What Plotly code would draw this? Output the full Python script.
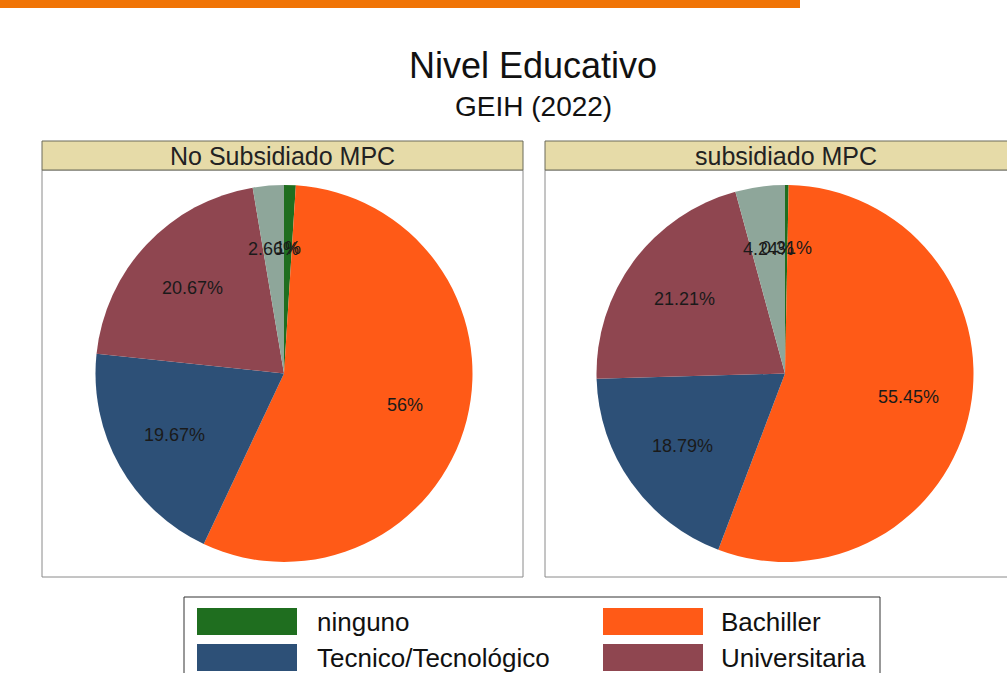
import math
import plotly.graph_objects as go

# ---- data ----
categories = ["ninguno", "Bachiller", "Tecnico/Tecnológico", "Universitaria", "Posgrado"]
no_subsidiado = [1.0, 56.0, 19.67, 20.67, 2.66]
subsidiado = [0.31, 55.45, 18.79, 21.21, 4.24]
panel_titles = ["No Subsidiado MPC", "subsidiado MPC"]
colors = ["#1f6e1f", "#ff5a17", "#2d5077", "#8f4650", "#8ea69a"]

W, H = 1007, 673
FONT = "Liberation Sans, Arial, sans-serif"


def px(x):
    return x / W


def py(y):
    return 1 - y / H


fig = go.Figure()
shapes = []
annotations = []

# top orange bar
shapes.append(dict(type="rect", xref="paper", yref="paper", x0=px(0), x1=px(800), y0=py(8), y1=py(0),
                   fillcolor="#f07406", line=dict(width=0), layer="below"))

panels = [
    dict(values=no_subsidiado, title=panel_titles[0], x0=42, x1=523, cx=284),
    dict(values=subsidiado, title=panel_titles[1], x0=545, x1=1026, cx=785),
]
cy, R = 373.5, 188.5
for p in panels:
    # panel box
    shapes.append(dict(type="rect", xref="paper", yref="paper", x0=px(p["x0"]), x1=px(p["x1"]),
                       y0=py(577), y1=py(170), fillcolor="white", line=dict(color="#8a8a8a", width=1),
                       layer="below"))
    # header strip
    shapes.append(dict(type="rect", xref="paper", yref="paper", x0=px(p["x0"]), x1=px(p["x1"]),
                       y0=py(170), y1=py(141), fillcolor="#e6dba8", line=dict(color="#6b6b5a", width=1),
                       layer="below"))
    annotations.append(dict(text=p["title"], xref="paper", yref="paper", x=px((p["x0"] + p["x1"]) / 2),
                            y=py(156), showarrow=False, font=dict(size=25, color="#222", family=FONT),
                            xanchor="center", yanchor="middle"))
    fig.add_trace(go.Pie(
        values=p["values"], labels=categories, sort=False, direction="clockwise", rotation=0,
        marker=dict(colors=colors, line=dict(width=0)), textinfo="none", showlegend=False,
        domain=dict(x=[px(p["cx"] - R), px(p["cx"] + R)], y=[py(cy + R), py(cy - R)]),
    ))
    total = sum(p["values"])
    cum = 0.0
    for v in p["values"]:
        mid = (cum + v / 2) / total
        cum += v
        th = 2 * math.pi * mid
        lx = p["cx"] + 0.665 * R * math.sin(th)
        ly = cy - 0.665 * R * math.cos(th)
        annotations.append(dict(text=f"{v:g}%", xref="paper", yref="paper", x=px(lx), y=py(ly),
                                showarrow=False, font=dict(size=18, color="#1a1a1a", family=FONT),
                                xanchor="center", yanchor="middle"))

# titles
annotations.append(dict(text="Nivel Educativo", xref="paper", yref="paper", x=px(533), y=py(66),
                        showarrow=False, font=dict(size=36, color="#111", family=FONT),
                        xanchor="center", yanchor="middle"))
annotations.append(dict(text="GEIH (2022)", xref="paper", yref="paper", x=px(533), y=py(106),
                        showarrow=False, font=dict(size=28, color="#111", family=FONT),
                        xanchor="center", yanchor="middle"))

# legend (drawn as shapes)
shapes.append(dict(type="rect", xref="paper", yref="paper", x0=px(184), x1=px(880), y0=py(720), y1=py(597),
                   fillcolor="white", line=dict(color="#333", width=1), layer="below"))
col_x = [197, 603]
text_x = [315, 719]
row_y = [621.5, 657.5, 693.5]
for i, (cat, col) in enumerate(zip(categories, colors)):
    c, r = i % 2, i // 2
    sx = col_x[c]
    sy = row_y[r]
    shapes.append(dict(type="rect", xref="paper", yref="paper", x0=px(sx), x1=px(sx + 100),
                       y0=py(sy + 13.5), y1=py(sy - 13.5), fillcolor=col, line=dict(width=0)))
    annotations.append(dict(text=cat, xref="paper", yref="paper", x=px(text_x[c]), y=py(sy),
                            showarrow=False, font=dict(size=26, color="#111", family=FONT),
                            xanchor="left", yanchor="middle"))

fig.update_layout(width=W, height=H, margin=dict(l=0, r=0, t=0, b=0), paper_bgcolor="white",
                  plot_bgcolor="white", shapes=shapes, annotations=annotations, showlegend=False,
                  font=dict(family=FONT))
fig.write_html("out.html", config={"displayModeBar": False},
               post_script="document.body.style.margin='0';document.body.style.overflow='hidden';")
